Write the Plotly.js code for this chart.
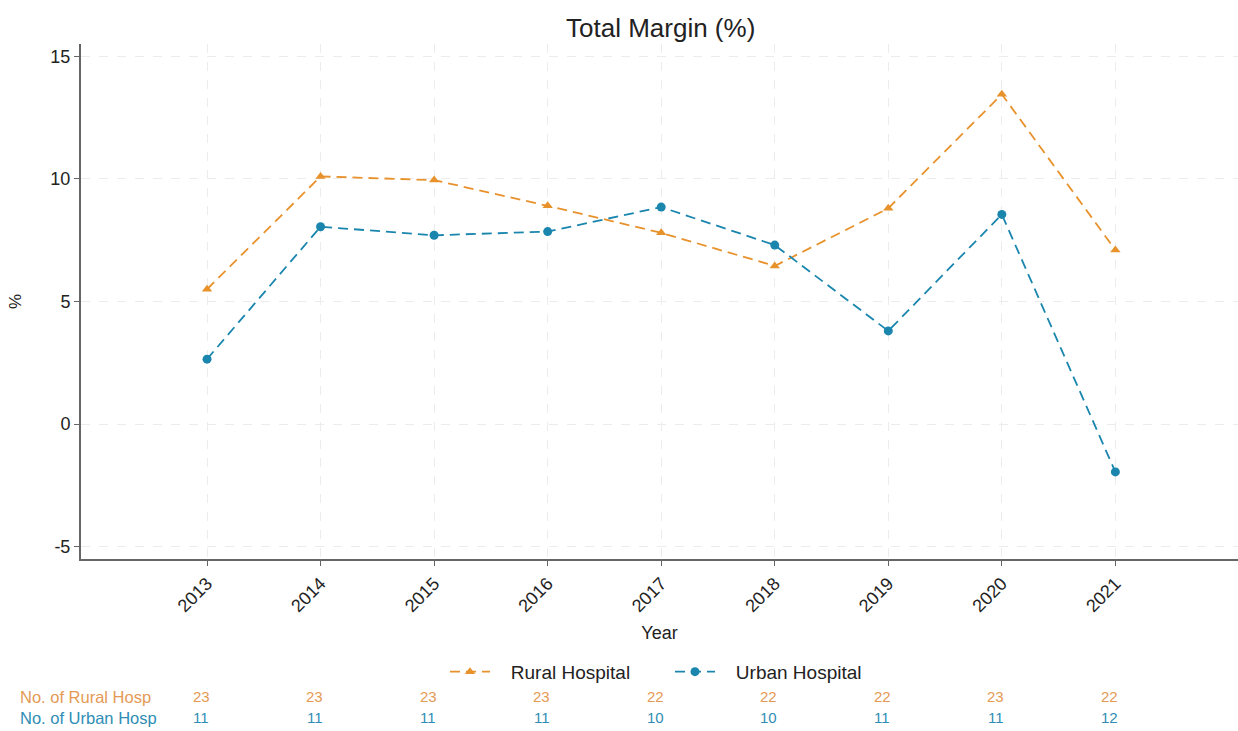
<!DOCTYPE html>
<html>
<head>
<meta charset="utf-8">
<script src="https://cdn.plot.ly/plotly-3.0.1.min.js"></script>
<style>html,body{margin:0;padding:0;background:#fff;}#chart{width:1238px;height:731px;}</style>
</head>
<body>
<div id="chart"></div>
<script>
const years = [2013, 2014, 2015, 2016, 2017, 2018, 2019, 2020, 2021];
const ruralMargin = [5.5, 10.1, 9.95, 8.9, 7.8, 6.45, 8.8, 13.45, 7.1];
const urbanMargin = [2.65, 8.05, 7.7, 7.85, 8.85, 7.3, 3.8, 8.55, -1.95];
const ruralCount = [23, 23, 23, 23, 22, 22, 22, 23, 22];
const urbanCount = [11, 11, 11, 11, 10, 10, 11, 11, 12];
const yTicks = [-5, 0, 5, 10, 15];
const yTickText = ['-5', '0', '5', '10', '15'];

const orange = '#e8922c';
const blue = '#1a86ae';
const font = 'Liberation Sans, Arial, sans-serif';
const pad = '\u00a0\u00a0\u00a0';

const traces = [
  {
    x: years, y: ruralMargin, name: pad + 'Rural Hospital', type: 'scatter', mode: 'lines+markers',
    line: {color: orange, width: 1.8, dash: '10px,6px'},
    marker: {symbol: 'triangle-up', size: 9, color: orange}
  },
  {
    x: years, y: urbanMargin, name: pad + 'Urban Hospital', type: 'scatter', mode: 'lines+markers',
    line: {color: blue, width: 1.8, dash: '10px,6px'},
    marker: {symbol: 'circle', size: 9, color: blue}
  }
];

const rowFontR = {family: font, size: 16.5, color: '#e49a55'};
const rowFontU = {family: font, size: 16.5, color: '#2f8db5'};
const numFontR = {family: font, size: 15, color: '#e49a55'};
const numFontU = {family: font, size: 15, color: '#2f8db5'};

const annotations = [];
annotations.push({xref: 'paper', yref: 'paper', x: -0.0545, y: -0.267, xanchor: 'left', yanchor: 'middle',
  text: 'No. of Rural Hosp', showarrow: false, font: rowFontR});
annotations.push({xref: 'paper', yref: 'paper', x: -0.0545, y: -0.308, xanchor: 'left', yanchor: 'middle',
  text: 'No. of Urban Hosp', showarrow: false, font: rowFontU});
years.forEach((yr, i) => {
  annotations.push({xref: 'x', yref: 'paper', x: yr, y: -0.267, xshift: -6, xanchor: 'center', yanchor: 'middle',
    text: String(ruralCount[i]), showarrow: false, font: numFontR});
  annotations.push({xref: 'x', yref: 'paper', x: yr, y: -0.308, xshift: -6, xanchor: 'center', yanchor: 'middle',
    text: String(urbanCount[i]), showarrow: false, font: numFontU});
});

const layout = {
  width: 1238, height: 731,
  margin: {l: 81, r: 0, t: 44, b: 172},
  paper_bgcolor: '#ffffff', plot_bgcolor: '#ffffff',
  font: {family: font, color: '#222'},
  title: {text: 'Total Margin (%)', x: 0.501, xref: 'paper', y: 0.962, yref: 'container', yanchor: 'middle',
    font: {family: font, size: 26, color: '#222'}},
  showlegend: true,
  legend: {orientation: 'h', x: 0.3146, xanchor: 'left', y: -0.219, yanchor: 'middle',
    font: {family: font, size: 19, color: '#222'}, bgcolor: 'rgba(0,0,0,0)',
    entrywidth: 170, entrywidthmode: 'pixels', itemwidth: 40},
  xaxis: {
    range: [2011.89, 2022.08], tickvals: years, ticktext: years.map(String), tickangle: -45,
    showgrid: true, gridcolor: '#ececec', griddash: 'dash', gridwidth: 1,
    showline: true, linecolor: '#666', linewidth: 2, ticks: 'outside', ticklen: 5, tickcolor: '#666',
    tickfont: {family: font, size: 18, color: '#222'}, zeroline: false,
    title: {text: 'Year', font: {family: font, size: 18, color: '#222'}, standoff: 11},
    automargin: false
  },
  yaxis: {
    range: [-5.5, 15.5], tickvals: yTicks, ticktext: yTickText,
    showgrid: true, gridcolor: '#ececec', griddash: 'dash', gridwidth: 1,
    showline: true, linecolor: '#666', linewidth: 2, ticks: 'outside', ticklen: 5, tickcolor: '#666',
    tickfont: {family: font, size: 18, color: '#222'}, zeroline: false,
    title: {text: '%', font: {family: font, size: 17, color: '#222'}, standoff: 24},
    automargin: false
  },
  annotations: annotations
};

Plotly.newPlot('chart', traces, layout, {displayModeBar: false, staticPlot: true});
</script>
</body>
</html>
